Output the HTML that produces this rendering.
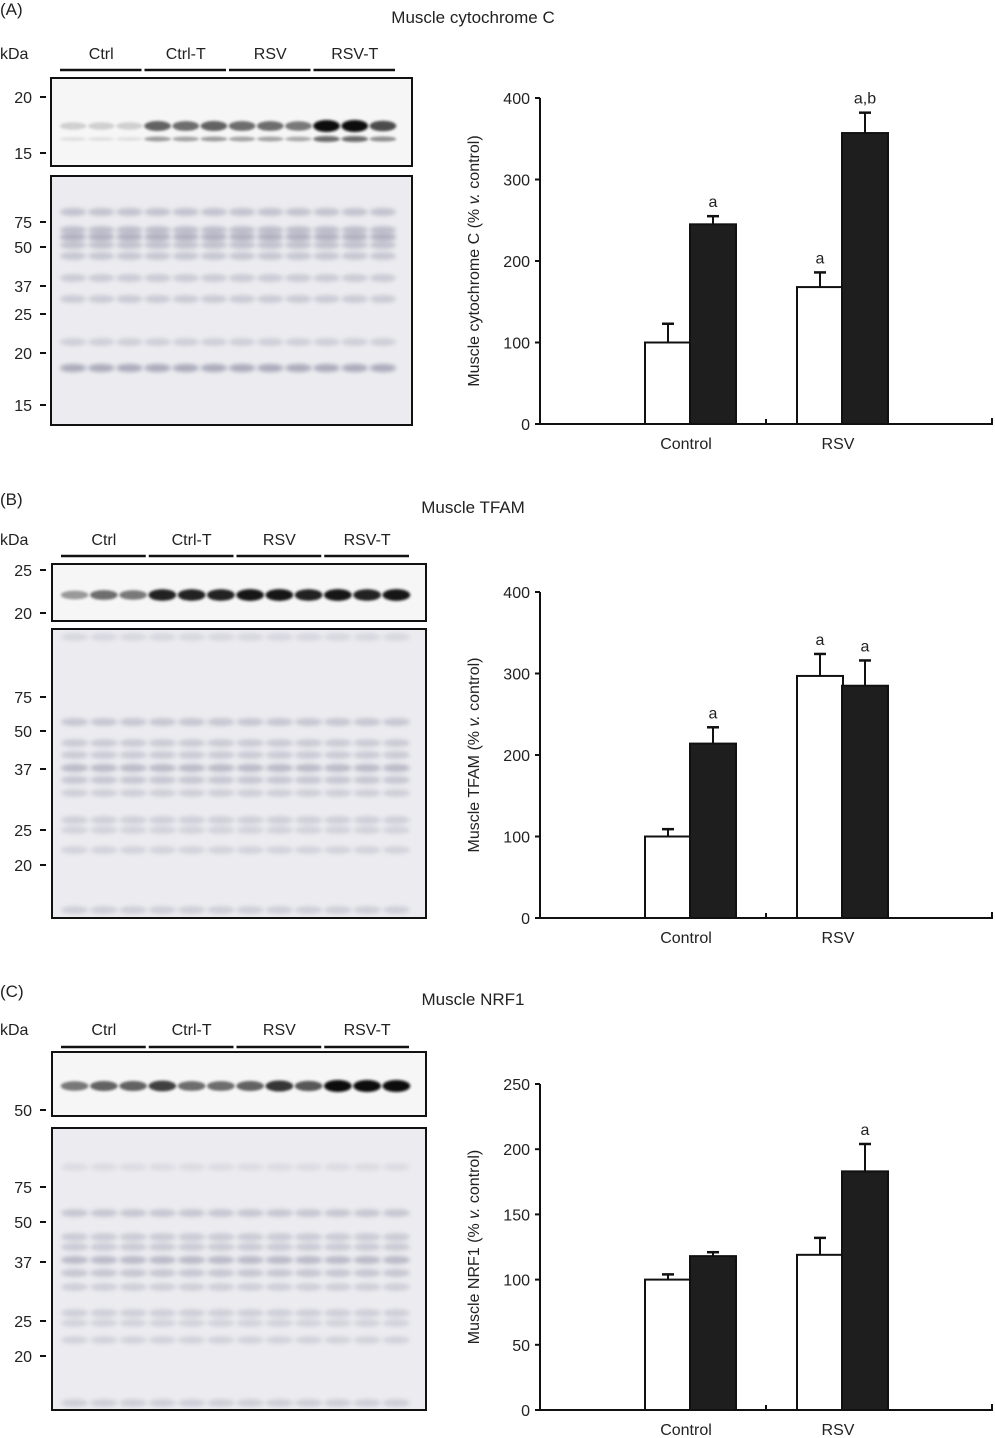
<!DOCTYPE html>
<html><head><meta charset="utf-8">
<style>
body{margin:0;background:#fff;}
svg{display:block;font-family:"Liberation Sans",Arial,sans-serif;}
</style></head>
<body>
<svg id="fig" width="995" height="1438" viewBox="0 0 995 1438" xmlns="http://www.w3.org/2000/svg">
<defs>
<filter id="blur2" x="-20%" y="-200%" width="140%" height="500%"><feGaussianBlur stdDeviation="2"/></filter>
<filter id="blur1" x="-20%" y="-200%" width="140%" height="500%"><feGaussianBlur stdDeviation="1.2"/></filter>
</defs>
</svg>
<script>
// ---- chart data ----
const groups = ["Control","RSV"];
const seriesNames = ["untrained","trained"];
const cytcValues = [[100,245],[168,357]];
const cytcErrors = [[23,10],[18,25]];
const cytcLabels = [["","a"],["a","a,b"]];
const cytcTicks = [0,100,200,300,400];
const tfamValues = [[100,214],[297,285]];
const tfamErrors = [[9,20],[27,31]];
const tfamLabels = [["","a"],["a","a"]];
const tfamTicks = [0,100,200,300,400];
const nrf1Values = [[100,118],[119,183]];
const nrf1Errors = [[4,3],[13,21]];
const nrf1Labels = [["",""],["","a"]];
const nrf1Ticks = [0,50,100,150,200,250];
const laneGroups = ["Ctrl","Ctrl-T","RSV","RSV-T"];
const cytcBandIntensity = [0.1,0.1,0.1,0.6,0.55,0.6,0.55,0.55,0.5,1,1,0.7];
const tfamBandIntensity = [0.35,0.55,0.5,0.9,0.9,0.9,0.95,0.95,0.9,0.95,0.9,0.95];
const nrf1BandIntensity = [0.5,0.6,0.6,0.75,0.55,0.55,0.6,0.8,0.65,1,1,1];

const NS="http://www.w3.org/2000/svg";
const svg=document.getElementById('fig');
function mk(tag,attrs,parent){const e=document.createElementNS(NS,tag);for(const k in attrs)e.setAttribute(k,attrs[k]);(parent||svg).appendChild(e);return e;}
function txt(s,x,y,size,anchor,parent){const t=mk('text',{x:x,y:y,'font-size':size,'text-anchor':anchor||'start',fill:'#222'},parent);t.textContent=s;return t;}

function panel(cfg){
  const g=mk('g',{});
  
  
  const pl=txt(cfg.letter,0,cfg.top+15,17,'start',g);
  
  
  const ti=txt(cfg.title,473,cfg.top+23,17,'middle',g);
  
  
  const kd=txt('kDa',0,cfg.labY+6,16,'start',g);
  
  
  const L=cfg.bx0+8, R=cfg.bx1-15, gw=(R-L)/4;
  laneGroups.forEach((n,i)=>{
    const cx=L+gw*i+gw/2;
    const t=txt(n,cx,cfg.labY+6,16,'middle',g);
    
    
    const ln=mk('line',{x1:L+gw*i+1,x2:L+gw*(i+1)-2,y1:cfg.lineY,y2:cfg.lineY,stroke:'#111','stroke-width':2.5},g);
    
    
  });
  const lanes=[];for(let i=0;i<12;i++)lanes.push(L+gw/6+gw/3*i);
  const lw=gw/3*0.95;
  const tb=mk('g',{},g);
  
  
  mk('rect',{x:cfg.bx0,y:cfg.t0,width:cfg.bx1-cfg.bx0,height:cfg.t1-cfg.t0,fill:'#f6f6f6'},tb);
  lanes.forEach((cx,i)=>{
    const v=cfg.intens[i];
    const c=Math.round(230-220*v);
    cfg.bandY.forEach((by,j)=>{
      mk('ellipse',{cx:cx,cy:by,rx:lw/2,ry:(j==0?5:2.5)*(0.7+0.5*v),fill:`rgb(${c},${c},${c})`,opacity:j==0?1:0.6,filter:'url(#blur1)'},tb);
    });
  });
  mk('rect',{x:cfg.bx0,y:cfg.t0,width:cfg.bx1-cfg.bx0,height:cfg.t1-cfg.t0,fill:'none',stroke:'#111','stroke-width':2},tb);
  const bb=mk('g',{},g);
  
  
  mk('rect',{x:cfg.bx0,y:cfg.b0,width:cfg.bx1-cfg.bx0,height:cfg.b1-cfg.b0,fill:'#ececf0'},bb);
  lanes.forEach(cx=>{
    cfg.bottomBands.forEach(([by,s])=>{
      mk('ellipse',{cx:cx,cy:by,rx:lw/2,ry:4,fill:'#9a9aae',opacity:s,filter:'url(#blur2)'},bb);
    });
  });
  mk('rect',{x:cfg.bx0,y:cfg.b0,width:cfg.bx1-cfg.bx0,height:cfg.b1-cfg.b0,fill:'none',stroke:'#111','stroke-width':2},bb);
  cfg.ladder.forEach(([lab,y])=>{
    const t=txt(lab,32,y+6,16,'end',g);
    
    
    mk('line',{x1:40,x2:46,y1:y,y2:y,stroke:'#111','stroke-width':2},g);
  });
  const ch=mk('g',{},g);
  
  
  const ax=540, axEnd=993, y0=cfg.y0, yTop=cfg.yTop, maxT=cfg.ticks[cfg.ticks.length-1];
  const ys=v=>y0-(v/maxT)*(y0-yTop);
  const groupCenters=[690,842];
  const bw=46;
  const yax=mk('line',{x1:ax,x2:ax,y1:yTop,y2:y0,stroke:'#111','stroke-width':2},ch);
  
  
  const xax=mk('line',{x1:ax,x2:axEnd,y1:y0,y2:y0,stroke:'#111','stroke-width':2},ch);
  
  
  mk('line',{x1:766,x2:766,y1:y0,y2:y0-5,stroke:'#111','stroke-width':2},ch);
  mk('line',{x1:axEnd-1,x2:axEnd-1,y1:y0,y2:y0-6,stroke:'#111','stroke-width':2},ch);
  cfg.ticks.forEach(t=>{
    const y=ys(t);
    mk('line',{x1:ax-5,x2:ax,y1:y,y2:y,stroke:'#111','stroke-width':2},ch);
    const tl=txt(String(t),ax-10,y+6,16,'end',ch);
    
    
  });
  const yt=mk('text',{x:0,y:0,'font-size':16,'text-anchor':'middle',fill:'#222',transform:`translate(479,${(y0+yTop)/2}) rotate(-90)`},ch);
  yt.innerHTML=cfg.ytitle+' (% <tspan font-style="italic">v.</tspan> control)';
  
  
  groups.forEach((gn,gi)=>{
    const gl=txt(gn,groupCenters[gi]-4,y0+25,16,'middle',ch);
    
    
    seriesNames.forEach((sn,si)=>{
      const v=cfg.values[gi][si], e=cfg.errors[gi][si];
      const x=groupCenters[gi]-bw+si*bw - (si==0?-1:0);
      const cx=x+bw/2;
      const eb=mk('line',{x1:cx,x2:cx,y1:ys(v),y2:ys(v+e),stroke:'#111','stroke-width':2},ch);
      
      
      mk('line',{x1:cx-6,x2:cx+6,y1:ys(v+e),y2:ys(v+e),stroke:'#111','stroke-width':2.5},ch);
      const r=mk('rect',{x:x,y:ys(v),width:bw,height:y0-ys(v),fill:si==0?'#fff':'#1e1e1e',stroke:'#111','stroke-width':2},ch);
      
      
      const lab=cfg.sig[gi][si];
      if(lab){
        const s=txt(lab,cx,ys(v+e)-9,16,'middle',ch);
        
        
      }
    });
  });
}

panel({name:'cytochrome-c',letter:'(A)',title:'Muscle cytochrome C',top:0,labY:53,lineY:70,
  bx0:51,bx1:412,t0:78,t1:166,b0:176,b1:425,intens:cytcBandIntensity,bandY:[126,139],
  bottomBands:[[212,.5],[230,.55],[237,.7],[245,.5],[256,.45],[278,.4],[299,.4],[342,.35],[368,.8]],
  ladder:[['20',97],['15',153],['75',222],['50',247],['37',286],['25',314],['20',353],['15',405]],
  y0:424,yTop:98,ticks:cytcTicks,values:cytcValues,errors:cytcErrors,sig:cytcLabels,ytitle:'Muscle cytochrome C'});
panel({name:'tfam',letter:'(B)',title:'Muscle TFAM',top:490,labY:539,lineY:556,
  bx0:52,bx1:426,t0:564,t1:621,b0:629,b1:918,intens:tfamBandIntensity,bandY:[595],
  bottomBands:[[637,.25],[722,.45],[743,.4],[755,.4],[768,.6],[780,.45],[793,.35],[820,.35],[830,.3],[850,.3],[910,.35]],
  ladder:[['25',570],['20',613],['75',697],['50',731],['37',769],['25',830],['20',865]],
  y0:918,yTop:592,ticks:tfamTicks,values:tfamValues,errors:tfamErrors,sig:tfamLabels,ytitle:'Muscle TFAM'});
panel({name:'nrf1',letter:'(C)',title:'Muscle NRF1',top:982,labY:1029,lineY:1047,
  bx0:52,bx1:426,t0:1052,t1:1116,b0:1128,b1:1410,intens:nrf1BandIntensity,bandY:[1086],
  bottomBands:[[1167,.2],[1213,.45],[1237,.4],[1247,.4],[1260,.6],[1273,.45],[1287,.35],[1313,.35],[1323,.3],[1340,.3],[1403,.35]],
  ladder:[['50',1110],['75',1187],['50',1222],['37',1262],['25',1321],['20',1356]],
  y0:1410,yTop:1084,ticks:nrf1Ticks,values:nrf1Values,errors:nrf1Errors,sig:nrf1Labels,ytitle:'Muscle NRF1'});
</script>
</body></html>
